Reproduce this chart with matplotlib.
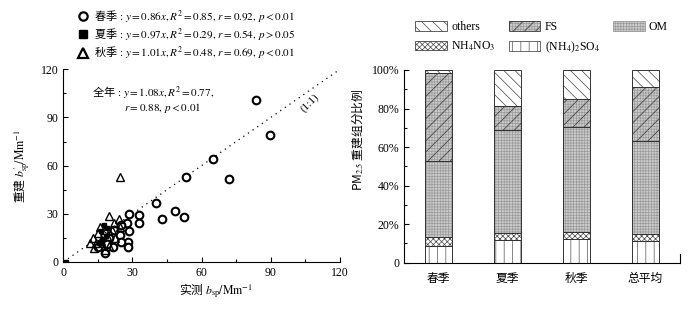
import matplotlib
matplotlib.use('Agg')
import matplotlib.pyplot as plt
from matplotlib.lines import Line2D
from matplotlib.patches import Patch
from matplotlib.ticker import MultipleLocator, FuncFormatter

plt.rcParams['font.family'] = ['Liberation Serif', 'Noto Sans CJK SC']
plt.rcParams['mathtext.fontset'] = 'stix'
plt.rcParams['font.size'] = 8
plt.rcParams['hatch.linewidth'] = 0.5
plt.rcParams['axes.linewidth'] = 0.8

CJK = 'Noto Sans CJK SC'

spring_x = [83.5, 89.5, 65, 53, 72, 40, 48.5, 43, 52.5, 28.5, 33, 33, 27.5, 25,
            28.5, 24.5, 28, 28, 25, 21.5, 18, 15, 20, 22, 17, 19]
spring_y = [101, 79, 64, 53, 51.5, 37, 32, 27, 28, 30, 29, 24, 24.5, 23,
            19, 17, 12.5, 9.5, 12.5, 9.5, 5.5, 9.5, 15, 20, 12, 11]
summer_x = [1, 17.5, 16.5, 16, 18.5, 19, 17]
summer_y = [0, 23, 19, 12.5, 16, 21, 14]
autumn_x = [24.5, 20, 24, 22, 18, 15, 13, 11.5, 13.5, 21, 24.5, 22.5, 18, 16.5,
            19, 14, 16, 20]
autumn_y = [53, 28.5, 27, 24, 20, 18, 15, 11.5, 8.5, 20, 22, 15, 7.5, 13,
            16, 12, 22, 10]

fit_labels = [
    r'春季$\,:\,y\mathrm{=0.86}x\mathrm{,}\,R^2\mathrm{=0.85,}\,r\mathrm{=0.92,}\,p\mathrm{<0.01}$',
    r'夏季$\,:\,y\mathrm{=0.97}x\mathrm{,}\,R^2\mathrm{=0.29,}\,r\mathrm{=0.54,}\,p\mathrm{>0.05}$',
    r'秋季$\,:\,y\mathrm{=1.01}x\mathrm{,}\,R^2\mathrm{=0.48,}\,r\mathrm{=0.69,}\,p\mathrm{<0.01}$',
]

# PM2.5 reconstructed composition (%)
seasons = ['春季', '夏季', '秋季', '总平均']
so4 = [8.8, 11.8, 12.5, 11.1]
nh4no3 = [4.7, 3.4, 3.3, 3.8]
om = [39.3, 53.7, 54.5, 48.3]
fs = [45.8, 12.4, 14.7, 28.1]
others = [1.4, 18.7, 15.0, 8.7]

fig = plt.figure(figsize=(6.94, 3.10), dpi=100)
ax1 = fig.add_axes([0.0912, 0.155, 0.3987, 0.6216])
ax2 = fig.add_axes([0.5821, 0.1526, 0.3977, 0.6216])

# ---- left: scatter ----
ax1.plot([0, 120], [0, 120], ls=(0, (1, 3.5)), color='k', lw=0.9)
ax1.plot(spring_x, spring_y, 'o', ls='none', ms=5.5, mfc='white', mec='k', mew=1.5)
ax1.plot(autumn_x, autumn_y, '^', ls='none', ms=6, mfc='none', mec='k', mew=1.0)
ax1.plot(summer_x, summer_y, 's', ls='none', ms=3.5, color='k')

ax1.set_xlim(0, 120)
ax1.set_ylim(0, 120)
ax1.xaxis.set_major_locator(MultipleLocator(30))
ax1.yaxis.set_major_locator(MultipleLocator(30))
ax1.xaxis.set_minor_locator(MultipleLocator(15))
ax1.yaxis.set_minor_locator(MultipleLocator(15))
ax1.tick_params(which='major', direction='in', length=3.5, width=0.8, labelsize=8.5)
ax1.tick_params(which='minor', direction='in', length=2, width=0.8)
ax1.spines['top'].set_visible(False)
ax1.spines['right'].set_visible(False)

ax1.set_xlabel(r'实测 $b_{\mathrm{sp}}\mathrm{/Mm}^{-1}$', family=CJK, fontsize=8.5)
ax1.set_ylabel(r"重建 $b^{\prime}_{\mathrm{sp}}\mathrm{/Mm}^{-1}$", family=CJK, fontsize=8.5)
ax1.xaxis.set_label_coords(0.55, -0.1)
ax1.yaxis.set_label_coords(-0.113, 0.5)

ax1.text(12.5, 106, r'全年$\,:\,y\mathrm{=1.08}x\mathrm{,}\,R^2\mathrm{=0.77,}$',
         family=CJK, fontsize=8, va='center')
ax1.text(26.5, 96, r'$r\mathrm{=0.88,}\,p\mathrm{<0.01}$', fontsize=8, va='center')
ax1.text(107, 99, '(1:1)', rotation=45, fontsize=8, ha='center', va='center')

handles = [
    Line2D([], [], marker='o', ls='none', ms=6, mfc='white', mec='k', mew=1.6),
    Line2D([], [], marker='s', ls='none', ms=6, color='k'),
    Line2D([], [], marker='^', ls='none', ms=7, mfc='white', mec='k', mew=1.6),
]
ax1.legend(handles, fit_labels, loc='upper left', bbox_to_anchor=(77 / 694, 1 - 8 / 310),
           bbox_transform=fig.transFigure, frameon=False, prop={'family': CJK, 'size': 8},
           handlelength=1.0, handletextpad=0.5, labelspacing=0.2, borderpad=0,
           borderaxespad=0)

# ---- right: stacked composition bars ----
pos = [1, 2, 3, 4]
w = 0.4
b1 = so4
b2 = [a + b for a, b in zip(b1, nh4no3)]
b3 = [a + b for a, b in zip(b2, om)]
b4 = [a + b for a, b in zip(b3, fs)]

grey = '#cbcbcb'
grid = '#9a9a9a'
ax2.bar(pos, so4, w, color='white', edgecolor='#555555', hatch='||', lw=0)
ax2.bar(pos, nh4no3, w, bottom=b1, color='white', edgecolor='#444444', hatch='xxxxxx', lw=0)
ax2.bar(pos, om, w, bottom=b2, color=grey, edgecolor=grid, hatch='++++++', lw=0)
ax2.bar(pos, fs, w, bottom=b3, color=grey, edgecolor=grid, hatch='++++++', lw=0)
ax2.bar(pos, fs, w, bottom=b3, fill=False, edgecolor='#333333', hatch='///', lw=0)
ax2.bar(pos, others, w, bottom=b4, color='white', edgecolor='#444444', hatch='\\\\\\', lw=0)
# outlines
for vals, bot in [(so4, None), (nh4no3, b1), (om, b2), (fs, b3), (others, b4)]:
    ax2.bar(pos, vals, w, bottom=bot, fill=False, edgecolor='#333333', lw=0.7)

ax2.set_xlim(0.5, 4.5)
ax2.set_ylim(0, 100)
ax2.yaxis.set_major_locator(MultipleLocator(20))
ax2.yaxis.set_minor_locator(MultipleLocator(10))
ax2.yaxis.set_major_formatter(FuncFormatter(lambda v, _: '0' if v == 0 else '%d%%' % v))
ax2.tick_params(axis='y', which='major', direction='in', length=3.5, width=0.8, labelsize=8.5)
ax2.tick_params(axis='y', which='minor', direction='in', length=2, width=0.8)
ax2.set_xticks(pos)
ax2.set_xticklabels(seasons, family=CJK, fontsize=8.5)
ax2.tick_params(axis='x', length=0, pad=7)
ax2.spines['top'].set_visible(False)
ax2.spines['right'].set_bounds(0, 4.5)
ax2.set_ylabel(r'PM$_{2.5}$ 重建组分比例', family=CJK, fontsize=8.5)
ax2.yaxis.set_label_coords(-0.141, 0.637)

h_others = Patch(facecolor='white', edgecolor='#444444', hatch='\\\\\\', lw=0.6)
h_no3 = Patch(facecolor='white', edgecolor='#444444', hatch='xxxxxx', lw=0.6)
h_fs = (Patch(facecolor=grey, edgecolor=grid, hatch='++++++', lw=0),
        Patch(fill=False, edgecolor='#333333', hatch='///', lw=0.6))
h_so4 = Patch(facecolor='white', edgecolor='#555555', hatch='||', lw=0.6)
h_om = Patch(facecolor=grey, edgecolor=grid, hatch='++++++', lw=0.6)
ax2.legend([h_others, h_no3, h_fs, h_so4, h_om],
           ['others', r'NH$_4$NO$_3$', 'FS', r'(NH$_4$)$_2$SO$_4$', 'OM'],
           ncol=3, loc='upper left', bbox_to_anchor=(415 / 694, 1 - 21 / 310),
           bbox_transform=fig.transFigure, frameon=False, fontsize=8.5,
           handlelength=2.7, handleheight=0.9, handletextpad=0.35,
           columnspacing=1.1, labelspacing=0.55, borderpad=0, borderaxespad=0)

fig.savefig('out.png', dpi=100)
